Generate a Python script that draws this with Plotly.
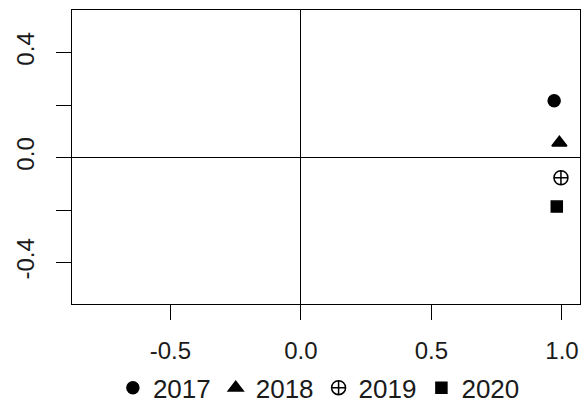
import plotly.graph_objects as go

years = ["2017", "2018", "2019", "2020"]
x_vals = [0.970, 0.990, 0.996, 0.980]
y_vals = [0.216, 0.056, -0.077, -0.187]
symbols = ["circle", "triangle-up", "circle-cross-open", "square"]
sizes = [12, 13, 14, 11]

x_ticks = [-0.5, 0.0, 0.5, 1.0]
x_ticktext = ["-0.5", "0.0", "0.5", "1.0"]
y_ticks = [-0.4, -0.2, 0.0, 0.2, 0.4]
y_ticktext = ["-0.4", "", "0.0", "", "0.4"]

fig = go.Figure()
for yr, xv, yv, sym, sz in zip(years, x_vals, y_vals, symbols, sizes):
    fig.add_trace(go.Scatter(
        x=[xv], y=[yv], mode="markers", name=yr,
        marker=dict(symbol=sym, size=sz, color="black",
                    line=dict(color="black", width=1.5)),
    ))

font = dict(family="Liberation Sans, Arial, sans-serif", size=24, color="#1a1a1a")
legfont = dict(family="Liberation Sans, Arial, sans-serif", size=26, color="#1a1a1a")

fig.update_layout(
    width=583, height=404,
    margin=dict(l=72, r=3, t=10, b=100, autoexpand=False),
    paper_bgcolor="white", plot_bgcolor="white",
    font=font,
    showlegend=True,
    legend=dict(orientation="h", x=0.486, xanchor="center", y=-0.285, yanchor="middle",
                font=legfont, itemwidth=30, bgcolor="rgba(0,0,0,0)"),
    xaxis=dict(range=[-0.877, 1.069], tickvals=x_ticks, ticktext=x_ticktext,
               showgrid=False, zeroline=True, zerolinecolor="black", zerolinewidth=1,
               showline=True, linecolor="black", linewidth=1, mirror=True,
               ticks="outside", ticklen=15, tickcolor="black", tickwidth=1,
               ticklabelstandoff=10, tickfont=font, automargin=False),
    yaxis=dict(range=[-0.558, 0.562], tickvals=y_ticks, ticktext=y_ticktext,
               showgrid=False, zeroline=True, zerolinecolor="black", zerolinewidth=1,
               showline=True, linecolor="black", linewidth=1, mirror=True,
               ticks="outside", ticklen=15, tickcolor="black", tickwidth=1,
               tickangle=-90, ticklabelstandoff=12, tickfont=font, automargin=False),
)

fig.write_html("out.html", config={"displayModeBar": False},
               post_script="document.body.style.margin='0';document.body.style.overflow='hidden';")
